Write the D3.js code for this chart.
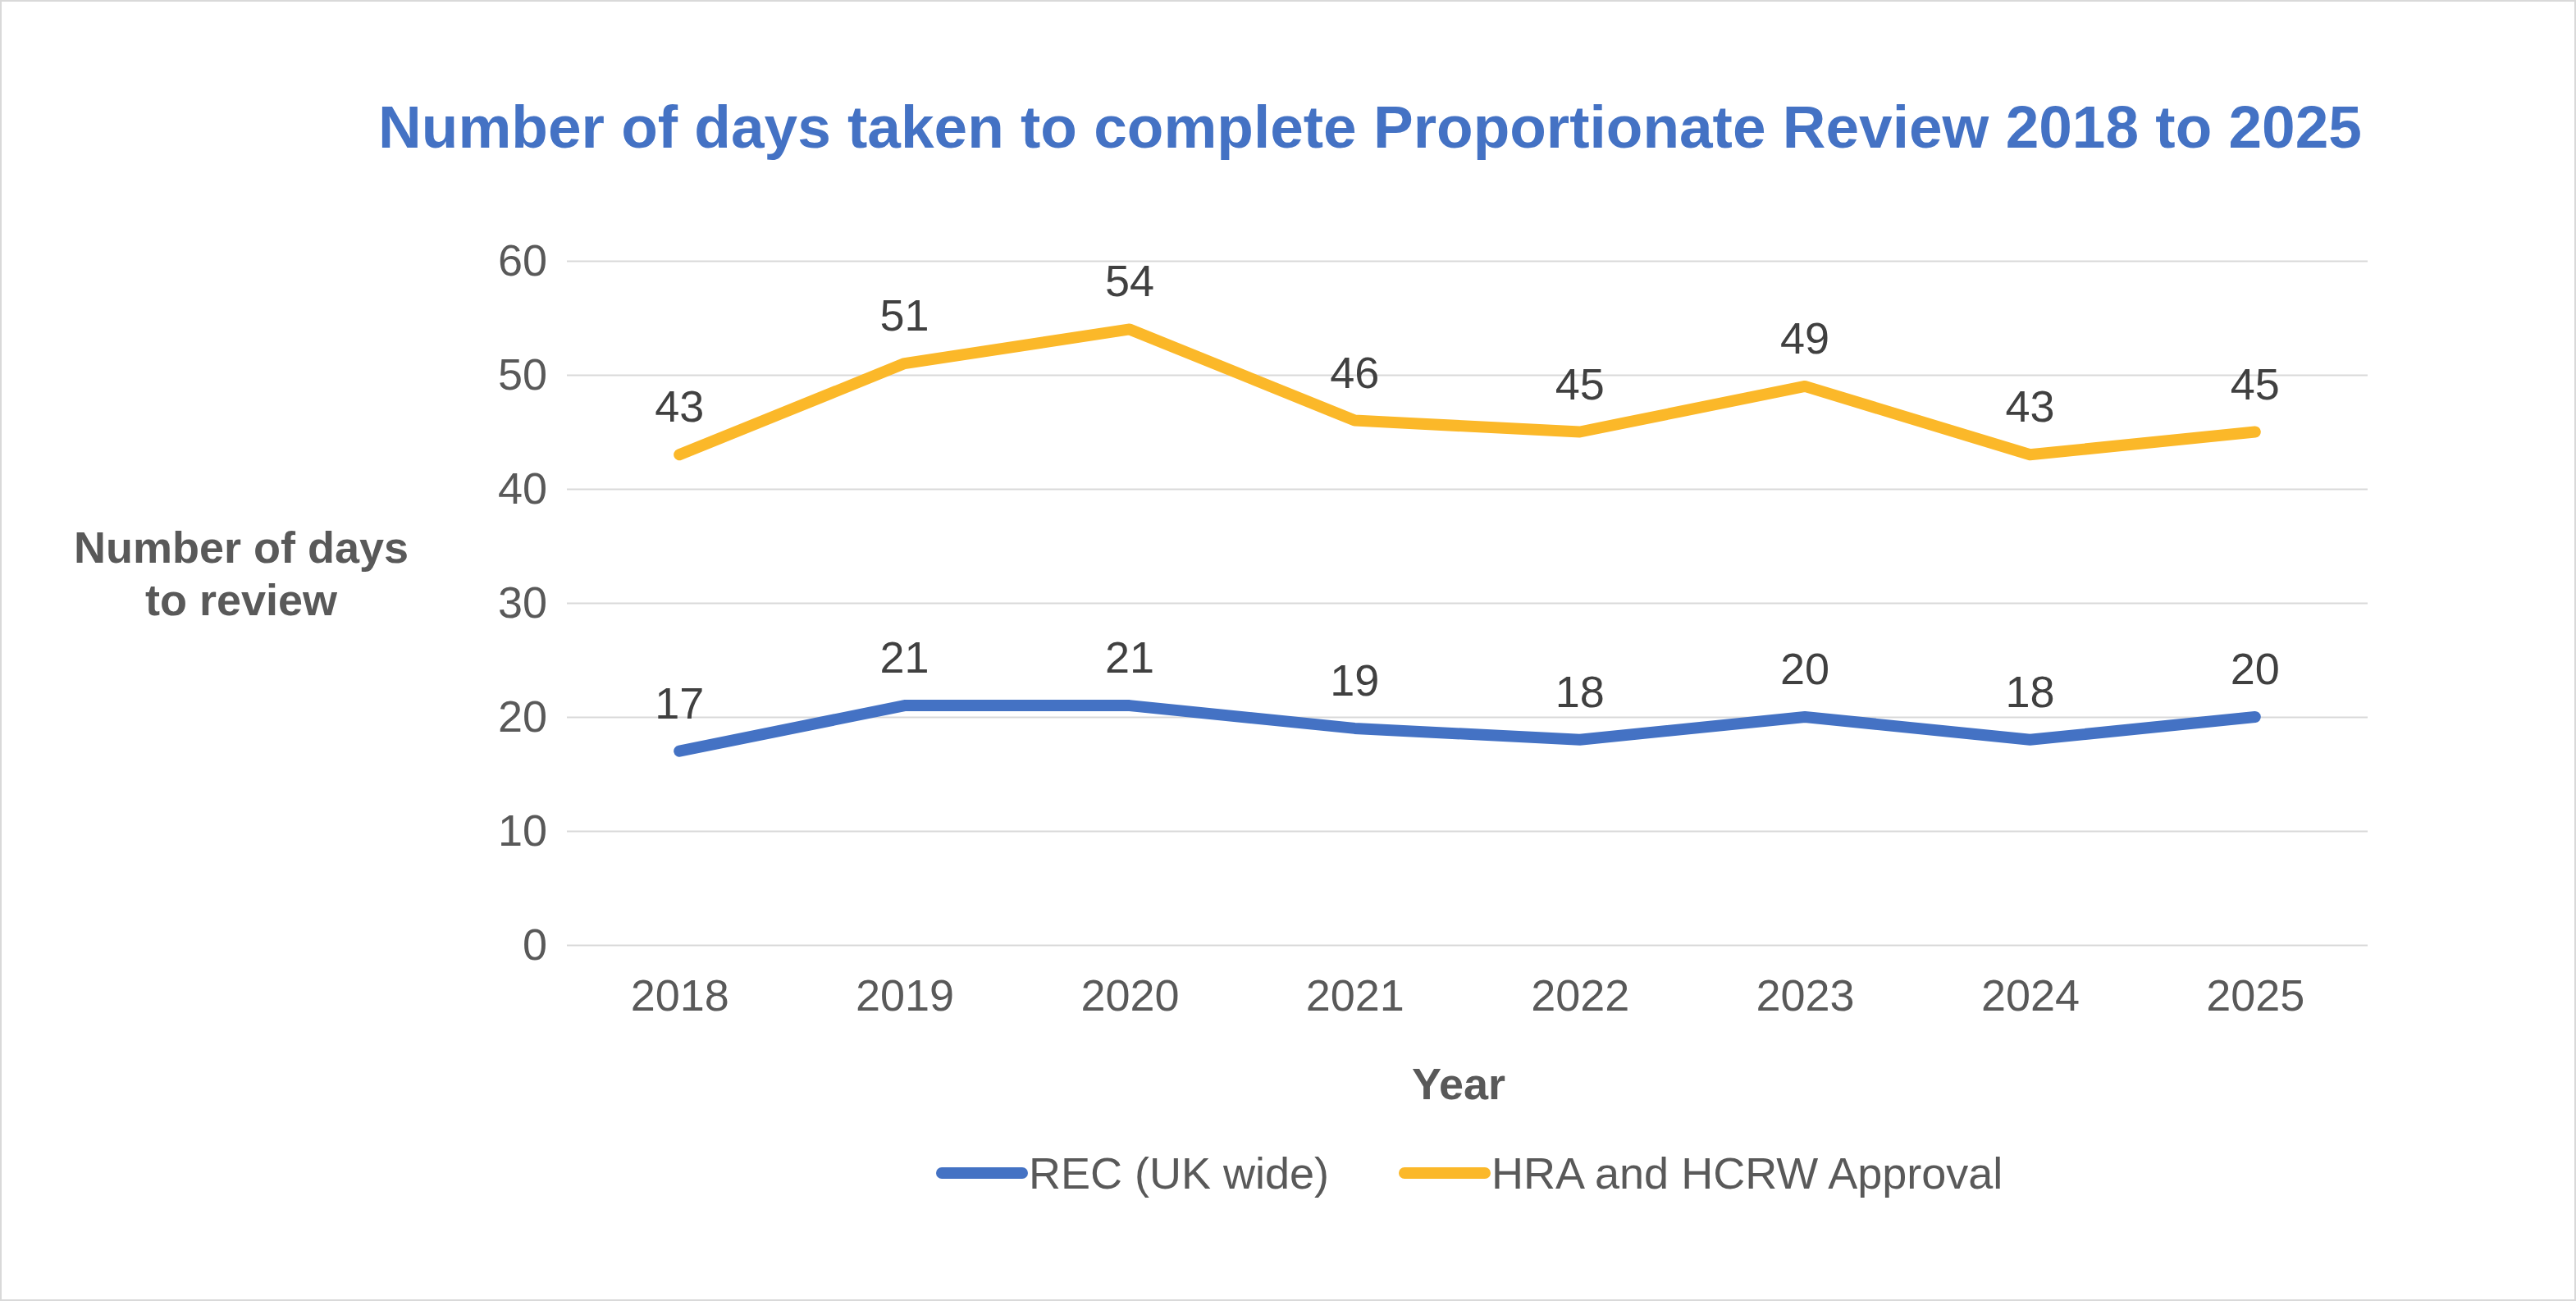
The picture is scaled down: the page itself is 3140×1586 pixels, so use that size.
<!DOCTYPE html>
<html><head><meta charset="utf-8">
<script src="https://cdn.jsdelivr.net/npm/d3@7"></script>
<style>body{margin:0;background:#fff}svg{display:block}</style>
</head><body>
<script>
const years = ["2018","2019","2020","2021","2022","2023","2024","2025"];
const recValues = [17,21,21,19,18,20,18,20];
const hraValues = [43,51,54,46,45,49,43,45];
const yTicks = [0,10,20,30,40,50,60];
const seriesNames = ["REC (UK wide)","HRA and HCRW Approval"];
const colors = ["#4472C4","#FBB829"];

const W=3140,H=1586;
const svg=d3.select("body").append("svg").attr("width",W).attr("height",H);
svg.append("rect").attr("x",1).attr("y",1).attr("width",W-2).attr("height",H-2).attr("fill","#fff").attr("stroke","#D9D9D9").attr("stroke-width",2);
const font="Arial, 'Liberation Sans', sans-serif";
const fs=54;
const L=691,R=2886,T=318,B=1152;
const x=d3.scalePoint().domain(years).range([L,R]).padding(0.5);
const y=d3.scaleLinear().domain([0,60]).range([B,T]);

svg.append("text").attr("x",1670).attr("y",180).attr("text-anchor","middle").attr("font-family",font).attr("font-weight","bold").attr("font-size",73).attr("fill","#4472C4").text("Number of days taken to complete Proportionate Review 2018 to 2025");

const gy=svg.append("g").attr("transform",`translate(${L},0)`).call(d3.axisLeft(y).tickValues(yTicks).tickSize(-(R-L)).tickPadding(24));
gy.select(".domain").remove();
gy.selectAll("line").attr("stroke","#D9D9D9").attr("stroke-width",2);
gy.selectAll("text").attr("font-family",font).attr("font-size",fs).attr("fill","#595959");

const gx=svg.append("g").attr("transform",`translate(0,${B})`).call(d3.axisBottom(x).tickSize(0).tickPadding(42));
gx.select(".domain").remove();
gx.selectAll("text").attr("font-family",font).attr("font-size",fs).attr("fill","#595959");

const yt=svg.append("text").attr("text-anchor","middle").attr("font-family",font).attr("font-weight","bold").attr("font-size",fs).attr("fill","#595959");
yt.append("tspan").attr("x",294).attr("y",686).text("Number of days");
yt.append("tspan").attr("x",294).attr("y",750).text("to review");
svg.append("text").attr("x",1778).attr("y",1340).attr("text-anchor","middle").attr("font-family",font).attr("font-weight","bold").attr("font-size",fs).attr("fill","#595959").text("Year");

const line=d3.line().x((d,i)=>x(years[i])).y(d=>y(d));
[recValues,hraValues].forEach((vals,k)=>{
  svg.append("path").datum(vals).attr("d",line).attr("fill","none").attr("stroke",colors[k]).attr("stroke-width",14).attr("stroke-linejoin","round").attr("stroke-linecap","round");
  svg.selectAll(null).data(vals).enter().append("text").attr("x",(d,i)=>x(years[i])).attr("y",d=>y(d)-40).attr("text-anchor","middle").attr("font-family",font).attr("font-size",fs).attr("fill","#404040").text(d=>d);
});

const lx=[1148,1712];
seriesNames.forEach((n,k)=>{
  svg.append("line").attr("x1",lx[k]).attr("x2",lx[k]+98).attr("y1",1430).attr("y2",1430).attr("stroke",colors[k]).attr("stroke-width",14).attr("stroke-linecap","round");
  svg.append("text").attr("x",lx[k]+106).attr("y",1449).attr("font-family",font).attr("font-size",fs).attr("fill","#595959").text(n);
});
</script>
</body></html>
